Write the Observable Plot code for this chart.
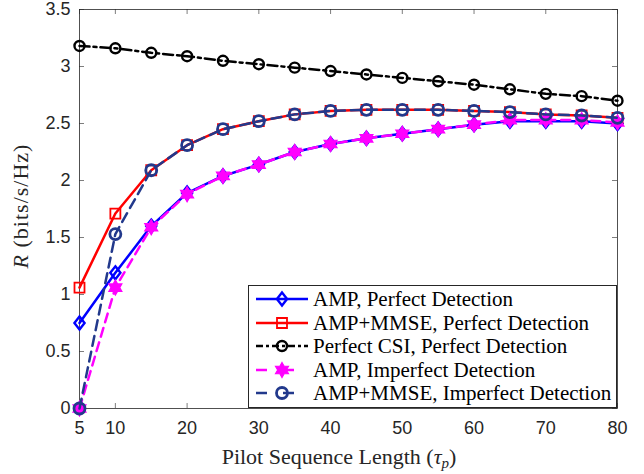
<!DOCTYPE html>
<html><head><meta charset="utf-8">
<script src="https://cdn.jsdelivr.net/npm/d3@7"></script>
<script src="https://cdn.jsdelivr.net/npm/@observablehq/plot@0.6"></script>
<style>
body{margin:0;background:#fff}
#fig{position:relative;width:644px;height:474px;overflow:hidden}
#legend{position:absolute;left:248px;top:285px;width:369px;height:123px;box-sizing:border-box;border:0.8px solid #262626;background:#fff}
.row{position:absolute;left:0;height:24px;width:100%}
.row svg{position:absolute;left:4px;top:0}
.row span{position:absolute;left:64px;top:0px;font-family:"Liberation Serif","Times New Roman",serif;font-size:21px;color:#000;white-space:nowrap;line-height:24px}
</style></head><body><div id="fig"></div><script>
// ---- data ----
const tau = [5,10,15,20,25,30,35,40,45,50,55,60,65,70,75,80];
const ampPerfect    = [0.75,1.19,1.60,1.89,2.04,2.14,2.25,2.32,2.37,2.41,2.45,2.49,2.52,2.52,2.52,2.50];
const mmsePerfect   = [1.06,1.71,2.09,2.31,2.45,2.52,2.58,2.61,2.62,2.62,2.62,2.61,2.60,2.58,2.57,2.55];
const perfectCSI    = [3.18,3.16,3.12,3.09,3.05,3.02,2.99,2.96,2.93,2.90,2.87,2.84,2.80,2.76,2.74,2.70];
const ampImperfect  = [0.00,1.06,1.59,1.88,2.04,2.14,2.25,2.32,2.37,2.41,2.45,2.49,2.53,2.53,2.53,2.51];
const mmseImperfect = [0.00,1.53,2.09,2.31,2.45,2.52,2.58,2.61,2.62,2.62,2.62,2.61,2.60,2.58,2.57,2.55];
const seriesNames = ["AMP, Perfect Detection","AMP+MMSE, Perfect Detection","Perfect CSI, Perfect Detection","AMP, Imperfect Detection","AMP+MMSE, Imperfect Detection"];
const xTicks = [5,10,20,30,40,50,60,70,80];
const yTicks = [0,0.5,1,1.5,2,2.5,3,3.5];

// ---- marker symbols ----
const symDiamond = {draw(c,s){const r=Math.sqrt(s/Math.PI),w=r*0.78;c.moveTo(0,-r);c.lineTo(w,0);c.lineTo(0,r);c.lineTo(-w,0);c.closePath();}};
const symSquare = {draw(c,s){const r=Math.sqrt(s/Math.PI);c.rect(-r,-r,2*r,2*r);}};
const symHexagram = {draw(c,s){const R=Math.sqrt(s/Math.PI),ri=R/Math.sqrt(3);for(let k=0;k<12;k++){const a=-Math.PI/2+k*Math.PI/6,rr=k%2?ri:R;const px=rr*Math.cos(a),py=rr*Math.sin(a);if(k)c.lineTo(px,py);else c.moveTo(px,py);}c.closePath();}};
const symCircle = {draw(c,s){const r=Math.sqrt(s/Math.PI);c.moveTo(r,0);c.arc(0,0,r,0,2*Math.PI);}};

const serif = "'Liberation Serif','Times New Roman',serif";
const navy = "#22398c";
const styles = [
  {values: ampPerfect,    color:"#0000ff", dash:null,        symbol:symDiamond,  r:6.5, fill:"none", sw:2.4},
  {values: mmsePerfect,   color:"#ff0000", dash:null,        symbol:symSquare,   r:5,   fill:"none", sw:1.8},
  {values: perfectCSI,    color:"#000000", dash:"10,4,3,4",  symbol:symCircle,   r:5,   fill:"none", sw:2.4},
  {values: ampImperfect,  color:"#ff00ff", dash:"9,6",       symbol:symHexagram, r:7.5, fill:"#ff00ff", sw:1.2},
  {values: mmseImperfect, color:navy,      dash:"10,6",      symbol:symCircle,   r:5.5, fill:"none", sw:2.8}
];

const W = 644, H = 474, mL = 79, mR = 27, mT = 9, mB = 66;
const frameH = H - mT - mB, frameW = W - mL - mR;
const tickLen = 5;

const marks = [];
styles.forEach((st, i) => {
  const rows = tau.map((t, j) => ({tau: t, R: st.values[j], series: seriesNames[i]}));
  marks.push(Plot.line(rows, {x:"tau", y:"R", stroke: st.color, strokeWidth: 2.5, strokeDasharray: st.dash, strokeLinejoin:"round"}));
  marks.push(Plot.dot(rows, {x:"tau", y:"R", symbol: st.symbol, r: st.r, stroke: st.color, strokeWidth: st.sw, fill: st.fill}));
});

const plot = Plot.plot({
  width: W, height: H,
  marginLeft: mL, marginRight: mR, marginTop: mT, marginBottom: mB,
  style: {background:"#fff", overflow:"visible"},
  x: {domain:[5,80], ticks: xTicks, label: null},
  y: {domain:[0,3.5], ticks: yTicks, label: null},
  marks: [
    Plot.tickX(xTicks, {insetTop: frameH - tickLen, stroke:"#262626", strokeWidth:0.6}),
    Plot.tickX(xTicks, {insetBottom: frameH - tickLen, stroke:"#262626", strokeWidth:0.6}),
    Plot.tickY(yTicks, {insetRight: frameW - tickLen, stroke:"#262626", strokeWidth:0.6}),
    Plot.tickY(yTicks, {insetLeft: frameW - tickLen, stroke:"#262626", strokeWidth:0.6}),
    Plot.axisX(xTicks, {tickSize:0, tickPadding:13, fontSize:18, fill:"#262626", fontFamily:"Liberation Sans, Arial, sans-serif", label:null}),
    Plot.axisY(yTicks, {tickSize:0, tickPadding:9, fontSize:18, fill:"#262626", fontFamily:"Liberation Sans, Arial, sans-serif", tickFormat: d => String(d), label:null}),
    Plot.frame({stroke:"#262626", strokeWidth:0.8}),
    ...marks
  ]
});

const fig = document.getElementById("fig");
fig.appendChild(plot);

// axis titles with italic symbols and subscript
const svg = d3.select(plot);
const xl = svg.append("text").attr("x", 339).attr("y", 464).attr("text-anchor","middle")
  .attr("fill","#262626").style("font-family", serif).style("font-size","22px");
xl.append("tspan").text("Pilot Sequence Length (");
xl.append("tspan").style("font-style","italic").text("τ");
xl.append("tspan").style("font-style","italic").style("font-size","15px").attr("dy",4).text("p");
xl.append("tspan").attr("dy",-4).text(")");

const yl = svg.append("text").attr("transform","translate(28,206) rotate(-90)").attr("text-anchor","middle")
  .attr("fill","#262626").style("font-family", serif).style("font-size","22px").style("letter-spacing","1px");
yl.append("tspan").style("font-style","italic").text("R");
yl.append("tspan").text(" (bits/s/Hz)");

// legend
const legend = d3.select(fig).append("div").attr("id","legend");
styles.forEach((st, i) => {
  const row = legend.append("div").attr("class","row").style("top", (1 + i*23.6) + "px");
  const s = row.append("svg").attr("width",58).attr("height",24);
  s.append("line").attr("x1",3).attr("x2",55).attr("y1",12).attr("y2",12)
    .attr("stroke",st.color).attr("stroke-width",2.5).attr("stroke-dasharray", st.dash ? (st.dash === "10,4,3,4" ? "7,3,3,3" : "11,16") : null);
  s.append("path").attr("transform","translate(29,12)")
    .attr("d", d3.symbol(st.symbol, Math.PI*st.r*st.r)())
    .attr("fill", st.fill === "none" ? "#fff" : st.fill).attr("fill-opacity", st.fill === "none" ? 0 : 1)
    .attr("stroke", st.color).attr("stroke-width", st.sw);
  row.append("span").text(seriesNames[i]);
});
</script></body></html>
